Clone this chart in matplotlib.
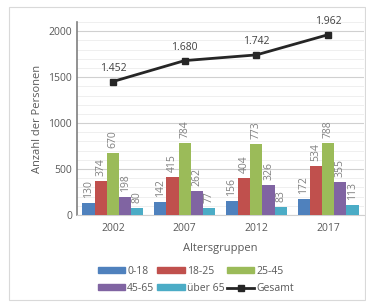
import matplotlib
matplotlib.use("Agg")
import matplotlib.pyplot as plt
import numpy as np
from matplotlib.ticker import MultipleLocator
from matplotlib.lines import Line2D
from matplotlib.patches import Patch

years = ["2002", "2007", "2012", "2017"]
groups = ["0-18", "18-25", "25-45", "45-65", "über 65"]
values = {
    "0-18": [130, 142, 156, 172],
    "18-25": [374, 415, 404, 534],
    "25-45": [670, 784, 773, 788],
    "45-65": [198, 262, 326, 355],
    "über 65": [80, 77, 83, 113],
}
total = [1452, 1680, 1742, 1962]
total_labels = ["1.452", "1.680", "1.742", "1.962"]
colors = ["#4F81BD", "#C0504D", "#9BBB59", "#8064A2", "#4BACC6"]

plt.rcParams['font.family'] = ['Open Sans', 'DejaVu Sans']
fig = plt.figure(figsize=(3.66, 3.05), dpi=100)
# outer light frame
fig.patches.append(plt.Rectangle((9/366, 5/305), 356/366, 293/305, transform=fig.transFigure,
                                 fill=False, edgecolor="#d9d9d9", linewidth=0.8))
ax = fig.add_axes([77/366, 90/305, 287/366, 193/305])

x = np.arange(len(years))
w = 0.17
for i, g in enumerate(groups):
    pos = x + (i - 2) * w
    ax.bar(pos, values[g], width=w, color=colors[i], zorder=3)
    for p, v in zip(pos, values[g]):
        ax.text(p, v + 55, str(v), rotation=90, ha="center", va="bottom",
                fontsize=7.5, color="#808080", zorder=4)

ax.plot(x, total, color="#262626", linewidth=2, marker="s", markersize=5, zorder=5)
for xi, t, lab in zip(x, total, total_labels):
    ax.text(xi, t + 85, lab, ha="center", va="bottom", fontsize=7.5, color="#404040")

ax.set_xlim(-0.5, 3.5)
ax.set_ylim(0, 2100)
ax.yaxis.set_major_locator(MultipleLocator(500))
ax.yaxis.set_minor_locator(MultipleLocator(100))
ax.grid(axis="y", which="major", color="#d0d0d0", linewidth=0.8, zorder=0)
ax.grid(axis="y", which="minor", color="#ececec", linewidth=0.6, zorder=0)
ax.set_xticks(x)
ax.set_xticklabels(years)
ax.tick_params(axis="both", which="both", length=0, labelsize=7.5, colors="#595959")
ax.tick_params(axis="x", pad=6)
for s in ["top", "right"]:
    ax.spines[s].set_visible(False)
ax.spines["left"].set_color("#7f7f7f")
ax.spines["left"].set_linewidth(1.2)
ax.spines["bottom"].set_color("#d0d0d0")
ax.set_ylabel("Anzahl der Personen", fontsize=8, color="#595959", labelpad=4)
ax.set_xlabel("Altersgruppen", fontsize=8, color="#595959", labelpad=6)

handles = [Patch(color=c) for c in colors] + [
    Line2D([0], [0], color="#262626", linewidth=2, marker="s", markersize=4)]
labels = groups + ["Gesamt"]
order = [0, 3, 1, 4, 2, 5]
leg = fig.legend([handles[i] for i in order], [labels[i] for i in order], ncol=3,
                 loc="center", bbox_to_anchor=(196/366, 25/305), frameon=False,
                 fontsize=7.5, handlelength=2.6, handleheight=0.5, handletextpad=0.2,
                 columnspacing=0.3, labelspacing=0.6)
for t in leg.get_texts():
    t.set_color("#595959")

fig.savefig("out.png", dpi=100)
